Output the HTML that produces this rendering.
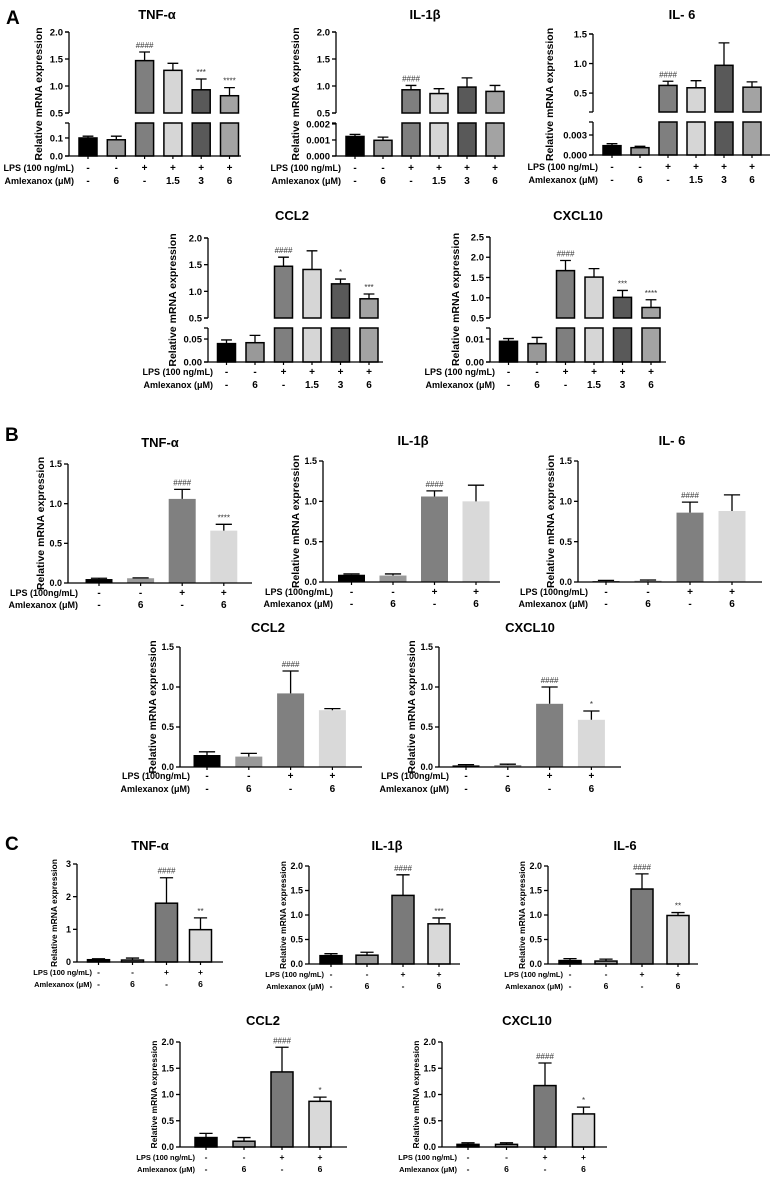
<!DOCTYPE html>
<html><head><meta charset="utf-8"><style>
html,body{margin:0;padding:0;background:#fff;}
svg{display:block;font-family:"Liberation Sans",Arial,sans-serif;}
</style></head><body>
<svg id="fig" width="773" height="1178" viewBox="0 0 773 1178" xmlns="http://www.w3.org/2000/svg">
<text x="6" y="24" font-size="19" font-weight="bold">A</text>
<text x="5" y="441" font-size="19" font-weight="bold">B</text>
<text x="5" y="850" font-size="19" font-weight="bold">C</text>
</svg>
<script>
// ---- data ----
const A_TNF_values=[0.1,0.09,1.47,1.29,0.93,0.82];
const A_TNF_errors=[0.01,0.02,0.16,0.13,0.2,0.15];
const A_TNF_marks=['','','####','','***','****'];
const A_IL1B_values=[0.00122,0.00098,0.93,0.86,0.98,0.9];
const A_IL1B_errors=[0.00013,0.0002,0.08,0.09,0.17,0.11];
const A_IL1B_marks=['','','####','','',''];
const A_IL6_values=[0.0014,0.0011,0.63,0.59,0.97,0.6];
const A_IL6_errors=[0.0003,0.0002,0.07,0.12,0.38,0.09];
const A_IL6_marks=['','','####','','',''];
const A_CCL2_values=[0.04,0.042,1.47,1.41,1.14,0.86];
const A_CCL2_errors=[0.008,0.016,0.17,0.35,0.09,0.09];
const A_CCL2_marks=['','','####','','*','***'];
const A_CXCL10_values=[0.009,0.008,1.67,1.51,1.01,0.76];
const A_CXCL10_errors=[0.0012,0.0027,0.25,0.21,0.17,0.19];
const A_CXCL10_marks=['','','####','','***','****'];
const A_LPS_row=['-','-','+','+','+','+'];
const A_AMLX_row=['-','6','-','1.5','3','6'];

const B_TNF_values=[0.05,0.06,1.06,0.66];
const B_TNF_errors=[0.01,0.005,0.12,0.08];
const B_TNF_marks=['','','####','****'];
const B_IL1B_values=[0.09,0.08,1.06,1.0];
const B_IL1B_errors=[0.01,0.02,0.07,0.2];
const B_IL1B_marks=['','','####',''];
const B_IL6_values=[0.01,0.015,0.86,0.88];
const B_IL6_errors=[0.01,0.01,0.13,0.2];
const B_IL6_marks=['','','####',''];
const B_CCL2_values=[0.15,0.13,0.92,0.71];
const B_CCL2_errors=[0.04,0.04,0.28,0.02];
const B_CCL2_marks=['','','####',''];
const B_CXCL10_values=[0.02,0.025,0.79,0.59];
const B_CXCL10_errors=[0.01,0.01,0.21,0.11];
const B_CXCL10_marks=['','','####','*'];

const C_TNF_values=[0.07,0.06,1.8,0.99];
const C_TNF_errors=[0.03,0.06,0.78,0.36];
const C_TNF_marks=['','','####','**'];
const C_IL1B_values=[0.17,0.18,1.4,0.82];
const C_IL1B_errors=[0.04,0.06,0.42,0.12];
const C_IL1B_marks=['','','####','***'];
const C_IL6_values=[0.07,0.06,1.53,0.99];
const C_IL6_errors=[0.04,0.04,0.31,0.06];
const C_IL6_marks=['','','####','**'];
const C_CCL2_values=[0.18,0.11,1.43,0.87];
const C_CCL2_errors=[0.08,0.07,0.47,0.08];
const C_CCL2_marks=['','','####','*'];
const C_CXCL10_values=[0.05,0.05,1.17,0.63];
const C_CXCL10_errors=[0.03,0.03,0.43,0.13];
const C_CXCL10_marks=['','','####','*'];
const BC_LPS_row=['-','-','+','+'];
const BC_AMLX_row=['-','6','-','6'];

const TICKS_A_TNF_LOW=[0,0.1], TICKLBL_A_TNF_LOW=['0.0','0.1'];
const TICKS_A_UP=[0.5,1.0,1.5,2.0], TICKLBL_A_UP=['0.5','1.0','1.5','2.0'];
const TICKS_A_IL1B_LOW=[0,0.001,0.002], TICKLBL_A_IL1B_LOW=['0.000','0.001','0.002'];
const TICKS_A_IL6_UP=[0.5,1.0,1.5], TICKLBL_A_IL6_UP=['0.5','1.0','1.5'];
const TICKS_A_IL6_LOW=[0,0.003], TICKLBL_A_IL6_LOW=['0.000','0.003'];
const TICKS_A_CCL2_LOW=[0,0.05], TICKLBL_A_CCL2_LOW=['0.00','0.05'];
const TICKS_A_CXCL10_UP=[0.5,1.0,1.5,2.0,2.5], TICKLBL_A_CXCL10_UP=['0.5','1.0','1.5','2.0','2.5'];
const TICKS_A_CXCL10_LOW=[0,0.01], TICKLBL_A_CXCL10_LOW=['0.00','0.01'];
const TICKS_B=[0,0.5,1.0,1.5], TICKLBL_B=['0.0','0.5','1.0','1.5'];
const TICKS_C_TNF=[0,1,2,3], TICKLBL_C_TNF=['0','1','2','3'];
const TICKS_C=[0,0.5,1.0,1.5,2.0], TICKLBL_C=['0.0','0.5','1.0','1.5','2.0'];

// ---- renderer ----
const NS='http://www.w3.org/2000/svg';
const svg=document.getElementById('fig');
function mk(tag,attrs,parent){const e=document.createElementNS(NS,tag);for(const k in attrs)e.setAttribute(k,attrs[k]);(parent||svg).appendChild(e);return e;}

function chart(c){
  const g=mk('g',{});
  
  
  function segFor(v){for(const s of c.segs){if(v<=s.d1)return s;}return c.segs[c.segs.length-1];}
  function yOf(v){const s=segFor(v);const vv=Math.max(s.d0,Math.min(v,s.d1));return s.p0+(vv-s.d0)/(s.d1-s.d0)*(s.p1-s.p0);}
  const cx=i=>c.axisX+c.off+i*c.step;
  const t=mk('text',{x:c.tx,y:c.ty,'font-size':c.titleSize,'font-weight':'bold','text-anchor':'middle'},g);
  t.textContent=c.title;
  
  
  c.values.forEach((v,i)=>{
    const x=cx(i)-c.bw/2;
    const fill=c.fills[i];
    if(c.segs.length===2){
      const low=c.segs[0],up=c.segs[1];
      const r1=mk('rect',{x:x,y:Math.min(yOf(Math.min(v,low.d1)),c.yB),width:c.bw,height:c.yB-yOf(Math.min(v,low.d1)),fill:fill,stroke:'#000','stroke-width':c.sw},g);
      
      
      if(v>low.d1){
        const yt=yOf(v);
        const r2=mk('rect',{x:x,y:yt,width:c.bw,height:up.p0-yt,fill:fill,stroke:'#000','stroke-width':c.sw},g);
        
        
      }
    } else {
      const yt=yOf(v);
      const r=mk('rect',{x:x,y:yt,width:c.bw,height:c.yB-yt,fill:fill,stroke:c.sw?'#000':'none','stroke-width':c.sw||0},g);
      
      
    }
    const ye=yOf(v+c.errors[i]), yv=yOf(v);
    const e=mk('path',{d:`M${cx(i)} ${yv}V${ye}M${cx(i)-c.bw*0.3} ${ye}H${cx(i)+c.bw*0.3}`,stroke:'#000','stroke-width':1.3,fill:'none'},g);
    
    
    if(c.marks[i]){
      const m=mk('text',{x:cx(i),y:ye-4,'font-size':c.markSize,'text-anchor':'middle',fill:'#333'},g);
      m.textContent=c.marks[i];
      
      
    }
  });
  c.segs.forEach(s=>{
    mk('line',{x1:c.axisX,y1:s.p0,x2:c.axisX,y2:s.p1,stroke:'#000','stroke-width':1.3},g);
    s.ticks.forEach((tv,k)=>{
      const y=yOf(tv);
      mk('line',{x1:c.axisX-4,y1:y,x2:c.axisX,y2:y,stroke:'#000','stroke-width':1.3},g);
      const tl=mk('text',{x:c.axisX-6,y:y+c.tickSize*0.36,'font-size':c.tickSize,'font-weight':'bold','text-anchor':'end'},g);
      tl.textContent=s.labels[k];
      
      
    });
    if(c.segs.length===2){mk('line',{x1:c.axisX-4,y1:s.p0,x2:c.axisX,y2:s.p0,stroke:'#000','stroke-width':1.3},g);mk('line',{x1:c.axisX-4,y1:s.p1,x2:c.axisX,y2:s.p1,stroke:'#000','stroke-width':1.3},g);}
  });
  const xa=mk('line',{x1:c.axisX,y1:c.yB,x2:c.xEnd,y2:c.yB,stroke:'#000','stroke-width':1.3},g);
  
  
  c.values.forEach((v,i)=>mk('line',{x1:cx(i),y1:c.yB,x2:cx(i),y2:c.yB+3,stroke:'#000','stroke-width':1.2},g));
  const top=c.segs[c.segs.length-1].p1;
  const ym=(top+c.yB)/2;
  const yx=c.axisX-c.ytd;
  const yt=mk('text',{x:yx,y:ym,'font-size':c.yTitleSize,'font-weight':'bold','text-anchor':'middle',transform:`rotate(-90 ${yx} ${ym})`},g);
  yt.textContent='Relative mRNA expression';
  
  
  const rowLabels=[c.lps,'Amlexanox (μM)'];
  [c.rowLPS,c.rowAML].forEach((row,r)=>{
    const y=c.yB+c.rowDy[r];
    const lb=mk('text',{x:c.axisX+c.lblDx,y:y,'font-size':c.rowSize,'font-weight':'bold','text-anchor':'end'},g);
    lb.textContent=rowLabels[r];
    
    
    row.forEach((s,i)=>{
      const tt=mk('text',{x:cx(i),y:y,'font-size':c.rowSize+1,'font-weight':'bold','text-anchor':'middle'},g);
      tt.textContent=s;
      
      
    });
  });
}

const FA=['#000','#999','#7f7f7f','#d6d6d6','#595959','#a3a3a3'];
const FB=['#000','#999','#808080','#d9d9d9'];
const FC=['#000','#999','#7a7a7a','#d9d9d9'];
function A(o){return Object.assign({fills:FA,bw:18,off:19,step:28.3,sw:1.5,titleSize:13,tickSize:9.5,markSize:8,yTitleSize:10.5,rowSize:9,rowLPS:A_LPS_row,rowAML:A_AMLX_row,rowDy:[15,28],lblDx:5,lps:'LPS (100 ng/mL)',ytd:28},o);}
function B(o){return Object.assign({fills:FB,bw:27,off:30,step:41.6,sw:0,titleSize:13,tickSize:9,markSize:8,yTitleSize:10.5,rowSize:9,rowLPS:BC_LPS_row,rowAML:BC_AMLX_row,rowDy:[13,25],lblDx:10,lps:'LPS (100ng/mL)',ytd:24,segs:[{d0:0,d1:1.5,p0:o.yB,p1:o.top,ticks:TICKS_B,labels:TICKLBL_B}]},o);}
function C(o){return Object.assign({fills:FC,bw:22,off:22,step:36,sw:1.5,titleSize:13,tickSize:9,markSize:8,yTitleSize:8.5,rowSize:7.5,rowLPS:BC_LPS_row,rowAML:BC_AMLX_row,rowDy:[13,25],lblDx:15,lps:'LPS (100 ng/mL)',ytd:23},o);}

chart(A({name:'chart-a-tnf',title:'TNF-α',tx:157,ty:19,axisX:69,xEnd:241,yB:156,ytd:27,values:A_TNF_values,errors:A_TNF_errors,marks:A_TNF_marks,
 segs:[{d0:0,d1:0.183,p0:156,p1:123,ticks:TICKS_A_TNF_LOW,labels:TICKLBL_A_TNF_LOW},{d0:0.5,d1:2.0,p0:113,p1:32,ticks:TICKS_A_UP,labels:TICKLBL_A_UP}]}));
chart(A({name:'chart-a-il1b',title:'IL-1β',tx:425,ty:19,axisX:336,xEnd:500,yB:156,ytd:37,values:A_IL1B_values,errors:A_IL1B_errors,marks:A_IL1B_marks,step:28,
 segs:[{d0:0,d1:0.00206,p0:156,p1:123,ticks:TICKS_A_IL1B_LOW,labels:TICKLBL_A_IL1B_LOW},{d0:0.5,d1:2.0,p0:113,p1:32,ticks:TICKS_A_UP,labels:TICKLBL_A_UP}]}));
chart(A({name:'chart-a-il6',title:'IL- 6',tx:682,ty:19,axisX:593,xEnd:770,yB:155,ytd:40,values:A_IL6_values,errors:A_IL6_errors,marks:A_IL6_marks,step:28,
 segs:[{d0:0,d1:0.00495,p0:155,p1:122,ticks:TICKS_A_IL6_LOW,labels:TICKLBL_A_IL6_LOW},{d0:0.18,d1:1.5,p0:112,p1:34,ticks:TICKS_A_IL6_UP,labels:TICKLBL_A_IL6_UP}]}));
chart(A({name:'chart-a-ccl2',title:'CCL2',tx:292,ty:220,axisX:208,xEnd:383,yB:362,ytd:32,values:A_CCL2_values,errors:A_CCL2_errors,marks:A_CCL2_marks,off:18.5,step:28.5,rowDy:[13,26],
 segs:[{d0:0,d1:0.074,p0:362,p1:328,ticks:TICKS_A_CCL2_LOW,labels:TICKLBL_A_CCL2_LOW},{d0:0.5,d1:2.0,p0:318,p1:238,ticks:TICKS_A_UP,labels:TICKLBL_A_UP}]}));
chart(A({name:'chart-a-cxcl10',title:'CXCL10',tx:578,ty:220,axisX:490,xEnd:666,yB:362,ytd:31,values:A_CXCL10_values,errors:A_CXCL10_errors,marks:A_CXCL10_marks,off:18.5,step:28.5,rowDy:[13,26],
 segs:[{d0:0,d1:0.0148,p0:362,p1:328,ticks:TICKS_A_CXCL10_LOW,labels:TICKLBL_A_CXCL10_LOW},{d0:0.5,d1:2.5,p0:318,p1:237,ticks:TICKS_A_CXCL10_UP,labels:TICKLBL_A_CXCL10_UP}]}));

chart(B({name:'chart-b-tnf',title:'TNF-α',tx:160,ty:447,axisX:68,xEnd:252,yB:583,top:464,off:31,values:B_TNF_values,errors:B_TNF_errors,marks:B_TNF_marks}));
chart(B({name:'chart-b-il1b',title:'IL-1β',tx:413,ty:445,axisX:323,xEnd:500,yB:582,top:461,off:28.5,step:41.5,values:B_IL1B_values,errors:B_IL1B_errors,marks:B_IL1B_marks}));
chart(B({name:'chart-b-il6',title:'IL- 6',tx:672,ty:445,axisX:578,xEnd:762,yB:582,top:461,off:28,step:42,values:B_IL6_values,errors:B_IL6_errors,marks:B_IL6_marks}));
chart(B({name:'chart-b-ccl2',title:'CCL2',tx:268,ty:632,axisX:180,xEnd:362,yB:767,top:647,off:27,step:41.8,values:B_CCL2_values,errors:B_CCL2_errors,marks:B_CCL2_marks,rowDy:[12,25]}));
chart(B({name:'chart-b-cxcl10',title:'CXCL10',tx:530,ty:632,axisX:439,xEnd:621,yB:767,top:647,off:27,step:41.8,values:B_CXCL10_values,errors:B_CXCL10_errors,marks:B_CXCL10_marks,rowDy:[12,25]}));

chart(C({name:'chart-c-tnf',title:'TNF-α',tx:150,ty:850,axisX:77,xEnd:223,yB:962,ytd:20,off:21.5,step:34,values:C_TNF_values,errors:C_TNF_errors,marks:C_TNF_marks,
 segs:[{d0:0,d1:3,p0:962,p1:864,ticks:TICKS_C_TNF,labels:TICKLBL_C_TNF}]}));
chart(C({name:'chart-c-il1b',title:'IL-1β',tx:387,ty:850,axisX:309,xEnd:460,yB:964,values:C_IL1B_values,errors:C_IL1B_errors,marks:C_IL1B_marks,
 segs:[{d0:0,d1:2,p0:964,p1:866,ticks:TICKS_C,labels:TICKLBL_C}]}));
chart(C({name:'chart-c-il6',title:'IL-6',tx:625,ty:850,axisX:548,xEnd:698,yB:964,off:22,values:C_IL6_values,errors:C_IL6_errors,marks:C_IL6_marks,
 segs:[{d0:0,d1:2,p0:964,p1:866,ticks:TICKS_C,labels:TICKLBL_C}]}));
chart(C({name:'chart-c-ccl2',title:'CCL2',tx:263,ty:1025,axisX:180,xEnd:347,yB:1147,off:26,step:38,values:C_CCL2_values,errors:C_CCL2_errors,marks:C_CCL2_marks,
 segs:[{d0:0,d1:2,p0:1147,p1:1042,ticks:TICKS_C,labels:TICKLBL_C}]}));
chart(C({name:'chart-c-cxcl10',title:'CXCL10',tx:527,ty:1025,axisX:442,xEnd:607,yB:1147,off:26,step:38.5,values:C_CXCL10_values,errors:C_CXCL10_errors,marks:C_CXCL10_marks,
 segs:[{d0:0,d1:2,p0:1147,p1:1042,ticks:TICKS_C,labels:TICKLBL_C}]}));
</script>
</body></html>
